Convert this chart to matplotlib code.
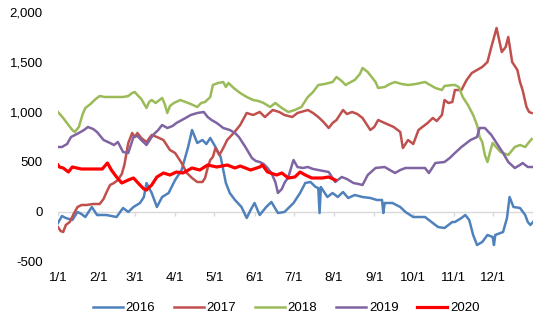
import matplotlib
matplotlib.use("Agg")
import matplotlib.pyplot as plt
from matplotlib.ticker import FuncFormatter

# ---- data (day of year, value) ----
month_labels = ["1/1", "2/1", "3/1", "4/1", "5/1", "6/1", "7/1", "8/1", "9/1", "10/1", "11/1", "12/1"]
month_days = [0, 31, 59, 90, 120, 151, 181, 212, 243, 273, 304, 334]

d2016 = [0, 3, 6, 11, 15, 18, 21, 26, 30, 37, 45, 50, 54, 58, 63, 66, 68, 72, 76, 80, 85, 90, 95, 100, 103,
         107, 111, 114, 117, 121, 125, 129, 132, 136, 141, 145, 148, 151, 155, 160, 164, 169, 174, 181, 186,
         190, 194, 198, 200, 201, 202, 207, 211, 215, 219, 223, 228, 234, 240, 245, 249, 250, 251, 257, 263,
         267, 273, 282, 287, 292, 297, 303, 305, 310, 313, 316, 319, 322, 326, 330, 334, 335, 336, 342, 345,
         347, 350, 355, 359, 361, 363, 365]
v2016 = [-110, -40, -60, -80, 0, -20, -50, 50, -30, -30, -50, 40, 0, 50, 90, 150, 290, 190, 50, 150, 190, 320,
         420, 650, 820, 690, 720, 680, 740, 650, 550, 290, 190, 120, 50, -60, 20, 90, -30, 50, 100, -10, 0, 90,
         190, 290, 300, 250, 240, -10, 250, 150, 190, 150, 200, 140, 170, 150, 140, 120, 120, -10, 90, 90, 50,
         0, -50, -50, -100, -150, -160, -100, -100, -60, -30, -80, -230, -330, -300, -230, -250, -330, -230,
         -200, -60, 150, 50, 40, -30, -100, -130, -100]

d2017 = [0, 2, 4, 6, 9, 12, 15, 18, 22, 27, 32, 35, 37, 40, 43, 46, 49, 51, 54, 57, 59, 61, 64, 68, 72, 76,
         81, 86, 90, 95, 99, 103, 107, 111, 113, 115, 117, 119, 121, 124, 127, 130, 135, 140, 145, 150, 155,
         159, 165, 170, 174, 180, 184, 192, 196, 200, 204, 208, 211, 214, 219, 222, 226, 230, 234, 240, 243,
         246, 251, 258, 263, 265, 269, 273, 277, 284, 288, 291, 295, 297, 300, 303, 305, 310, 314, 318, 322,
         326, 330, 333, 337, 341, 344, 346, 349, 353, 355, 357, 360, 362, 364]
v2017 = [-150, -190, -200, -130, -100, -20, 50, 70, 70, 80, 80, 130, 190, 270, 290, 320, 380, 470, 690, 790,
         750, 790, 740, 700, 770, 750, 720, 620, 590, 490, 390, 340, 300, 300, 340, 440, 520, 550, 640, 570,
         640, 720, 790, 870, 990, 970, 1000, 950, 1020, 1000, 970, 950, 990, 1020, 990, 950, 900, 840, 890,
         920, 1020, 980, 1000, 980, 940, 820, 850, 920, 890, 850, 800, 640, 720, 680, 820, 890, 940, 910, 970,
         1120, 1090, 1100, 1220, 1220, 1320, 1390, 1420, 1450, 1500, 1650, 1840, 1600, 1650, 1750, 1500, 1420,
         1300, 1220, 1050, 1000, 990]

d2018 = [0, 4, 8, 11, 13, 16, 19, 21, 25, 29, 32, 36, 40, 46, 50, 54, 57, 59, 61, 64, 68, 70, 72, 75, 78,
         80, 82, 84, 86, 89, 94, 98, 102, 107, 110, 113, 117, 119, 123, 127, 129, 131, 135, 140, 145, 150, 154,
         158, 163, 167, 172, 177, 182, 187, 192, 196, 200, 205, 211, 214, 218, 221, 225, 228, 232, 234, 238,
         241, 244, 246, 251, 255, 259, 264, 269, 275, 282, 286, 290, 295, 297, 303, 305, 308, 311, 315, 319,
         322, 324, 326, 328, 330, 332, 334, 340, 346, 351, 355, 359, 362, 364]
v2018 = [1000, 940, 870, 820, 800, 850, 980, 1040, 1080, 1130, 1160, 1150, 1150, 1150, 1150, 1160, 1190,
         1200, 1170, 1130, 1040, 1100, 1120, 1090, 1120, 1140, 1080, 990, 1060, 1090, 1120, 1100, 1080, 1050,
         1090, 1100, 1150, 1270, 1290, 1300, 1250, 1290, 1240, 1190, 1150, 1120, 1110, 1090, 1050, 1090, 1040,
         1000, 1020, 1050, 1150, 1200, 1270, 1280, 1300, 1350, 1310, 1270, 1300, 1320, 1380, 1440, 1400, 1350,
         1300, 1240, 1250, 1280, 1300, 1280, 1270, 1280, 1300, 1270, 1240, 1220, 1260, 1270, 1270, 1250, 1150,
         1070, 970, 870, 750, 700, 570, 500, 600, 690, 600, 570, 650, 670, 650, 700, 730]

d2019 = [0, 3, 7, 10, 16, 20, 23, 27, 30, 35, 40, 43, 46, 50, 54, 58, 61, 64, 68, 73, 77, 80, 84, 88, 91,
         98, 102, 107, 112, 115, 118, 122, 127, 132, 136, 139, 144, 149, 152, 155, 158, 161, 164, 167, 169,
         172, 174, 177, 180, 181, 184, 188, 192, 196, 200, 208, 213, 218, 222, 227, 231, 234, 238, 244, 251,
         255, 259, 263, 267, 275, 282, 285, 290, 297, 301, 305, 310, 317, 322, 324, 328, 333, 338, 342, 346,
         351, 355, 357, 361, 365]
v2019 = [650, 650, 680, 750, 790, 820, 850, 830, 800, 720, 690, 670, 700, 600, 590, 750, 760, 720, 670, 770,
         820, 870, 840, 860, 890, 940, 970, 990, 1000, 950, 920, 890, 840, 820, 790, 750, 650, 540, 510, 500,
         480, 440, 390, 300, 190, 230, 290, 350, 480, 520, 450, 440, 450, 430, 420, 400, 300, 350, 330, 290,
         280, 270, 370, 440, 450, 420, 390, 420, 440, 440, 440, 390, 490, 500, 540, 590, 650, 720, 750, 840,
         840, 770, 670, 590, 500, 440, 470, 490, 450, 450]

d2020 = [0, 1, 4, 8, 11, 18, 26, 34, 38, 41, 45, 49, 54, 58, 63, 66, 68, 72, 76, 81, 86, 91, 96, 103, 109,
         115, 122, 130, 136, 140, 148, 155, 157, 161, 168, 172, 177, 182, 186, 190, 195, 203, 208, 213]
v2020 = [470, 450, 440, 400, 450, 430, 430, 430, 490, 420, 350, 290, 320, 340, 270, 230, 220, 270, 350, 390,
         370, 400, 390, 440, 420, 470, 450, 470, 440, 460, 420, 450, 470, 400, 370, 390, 340, 350, 400, 370,
         340, 340, 350, 320]

series = [
    ("2016", d2016, v2016, "#4F81BD", 1.8),
    ("2017", d2017, v2017, "#C0504D", 1.8),
    ("2018", d2018, v2018, "#9BBB59", 1.8),
    ("2019", d2019, v2019, "#8064A2", 1.8),
    ("2020", d2020, v2020, "#FF0000", 2.3),
]

plt.rcParams['font.family'] = ['Liberation Sans', 'DejaVu Sans']

fig = plt.figure(figsize=(5.5, 3.3), dpi=100)
ax = fig.add_axes([58 / 550, 68 / 330, 475 / 550, 250 / 330])

# zero line with tick marks
ax.axhline(0, color="#D9D9D9", lw=1.0, zorder=1)
ax.vlines(month_days + [365], -40, 0, color="#D9D9D9", lw=1.0, zorder=1)

for name, d, v, c, lw in series:
    ax.plot(d, v, color=c, lw=lw, label=name, solid_joinstyle="round", zorder=3)

ax.set_xlim(0, 365)
ax.set_ylim(-500, 2000)
ax.set_yticks([-500, 0, 500, 1000, 1500, 2000])
ax.yaxis.set_major_formatter(FuncFormatter(lambda x, p: f"{int(x):,}"))
ax.set_xticks(month_days)
ax.set_xticklabels(month_labels)
ax.tick_params(axis="y", length=0, pad=11, labelsize=9.5, colors="#000000")
ax.tick_params(axis="x", length=0, pad=7, labelsize=9.5, colors="#000000")
for s in ax.spines.values():
    s.set_visible(False)

leg = fig.legend(loc="center", bbox_to_anchor=(286 / 550, 22 / 330), ncol=5, frameon=False,
                 fontsize=9.5, handlelength=2.3, handletextpad=0.2, columnspacing=1.4)

fig.savefig("out.png", dpi=100)
